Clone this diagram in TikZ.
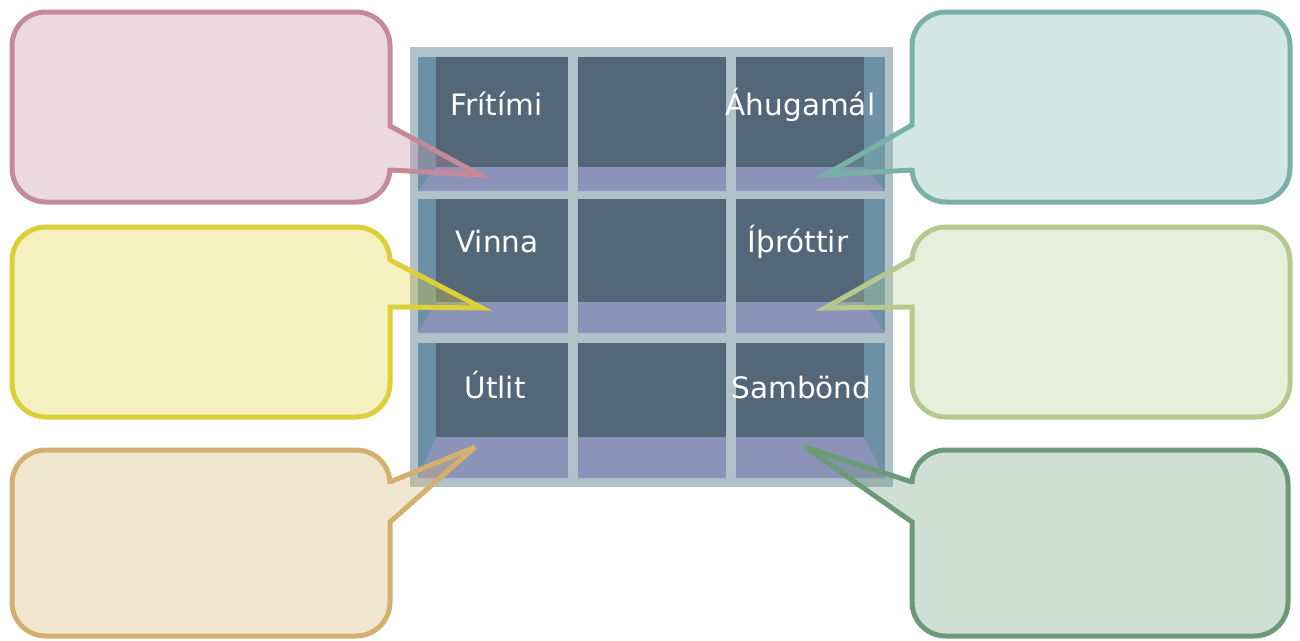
\documentclass[tikz,border=0pt]{standalone}
\usepackage{fontspec}
\setmainfont{DejaVu Sans}
\definecolor{frameC}{HTML}{B0C1CA}
\definecolor{sideC}{HTML}{6C91A6}
\definecolor{backC}{HTML}{536779}
\definecolor{floorC}{HTML}{8C93B9}
\definecolor{pinkC}{HTML}{C48A9A}
\definecolor{tealC}{HTML}{7AB1A6}
\definecolor{yellowC}{HTML}{DCCF3A}
\definecolor{lgreenC}{HTML}{B5C98E}
\definecolor{tanC}{HTML}{D4B06E}
\definecolor{dgreenC}{HTML}{6B9A78}
\tikzset{
  callout/.style={draw=#1, fill=#1, fill opacity=0.32, draw opacity=1, line width=5pt, line join=miter, miter limit=6},
  lbl/.style={text=white, font=\fontsize{29.5}{35}\selectfont, anchor=base, inner sep=0pt}
}
\newcommand\calloutL[9]{%
  \draw[callout=#9] ({#1+34},#2) -- ({#3-34},#2) .. controls ({#3-15},#2) and (#3,{#2+15}) .. (#3,{#2+34})
    -- (#3,#5) -- (#7,#8) -- (#3,#6)
    -- (#3,{#4-34}) .. controls (#3,{#4-15}) and ({#3-15},#4) .. ({#3-34},#4)
    -- ({#1+34},#4) .. controls ({#1+15},#4) and (#1,{#4-15}) .. (#1,{#4-34})
    -- (#1,{#2+34}) .. controls (#1,{#2+15}) and ({#1+15},#2) .. ({#1+34},#2) -- cycle;}
\newcommand\calloutR[9]{%
  \draw[callout=#9] ({#1+34},#2) -- ({#3-34},#2) .. controls ({#3-15},#2) and (#3,{#2+15}) .. (#3,{#2+34})
    -- (#3,{#4-34}) .. controls (#3,{#4-15}) and ({#3-15},#4) .. ({#3-34},#4)
    -- ({#1+34},#4) .. controls ({#1+15},#4) and (#1,{#4-15}) .. (#1,{#4-34})
    -- (#1,#6) -- (#7,#8) -- (#1,#5)
    -- (#1,{#2+34}) .. controls (#1,{#2+15}) and ({#1+15},#2) .. ({#1+34},#2) -- cycle;}
\begin{document}
\begin{tikzpicture}[x=1pt,y=-1pt]
\useasboundingbox (0,0) rectangle (1300,640);
% shelf
\fill[frameC] (410,47) rectangle (893,487);
\foreach \t/\f/\b in {57/167/191, 199/302/333, 343/437/478}{
  \fill[sideC] (418,\t) rectangle (885,\b);
  \fill[backC] (436,\t) rectangle (864,\f);
  \fill[floorC] (436,\f) -- (864,\f) -- (885,\b) -- (418,\b) -- cycle;
}
\fill[frameC] (568,57) rectangle (578,478);
\fill[frameC] (726,57) rectangle (736,478);
% labels
\node[lbl] (fritimi) at (496.5,115) {Frítími};
\node[lbl] (ahugamal) at (800.5,115) {Áhugamál};
\node[lbl] (vinna) at (497,252) {Vinna};
\node[lbl] (ithrottir) at (798,252) {Íþróttir};
\node[lbl] (utlit) at (495,398) {Útlit};
\node[lbl] (sambond) at (801.5,398) {Sambönd};
% callouts
\calloutL{12}{12}{390}{202}{126}{170}{480}{175}{pinkC}
\calloutL{12}{227}{390}{417}{260}{307}{482}{308}{yellowC}
\calloutL{12}{450}{390}{636}{482}{522}{475}{447}{tanC}
\calloutR{912}{12}{1290}{202}{125}{170}{825}{175}{tealC}
\calloutR{912}{227}{1290}{417}{259}{307}{825}{308}{lgreenC}
\calloutR{912}{450}{1288}{636}{482}{522}{805}{447}{dgreenC}
\end{tikzpicture}
\end{document}
